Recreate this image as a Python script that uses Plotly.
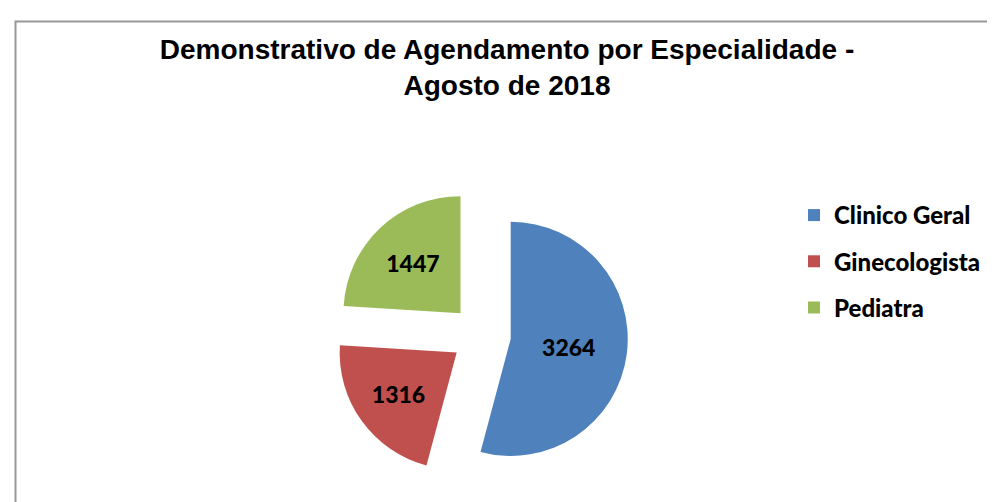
import plotly.graph_objects as go

categories = ["Clinico Geral", "Ginecologista", "Pediatra"]
values = [3264, 1316, 1447]
colors = ["#4F81BD", "#C0504D", "#9BBB59"]
title_lines = ["Demonstrativo de Agendamento por Especialidade -", "Agosto de 2018"]

fig = go.Figure()
fig.add_trace(go.Pie(
    labels=categories, values=values, sort=False, direction="clockwise", rotation=0,
    marker=dict(colors=colors, line=dict(width=0)),
    pull=[0.256, 0.256, 0.256],
    textinfo="value", textposition="inside", insidetextorientation="horizontal",
    textfont=dict(family="Lato", size=23, color="black", weight=900),
    domain=dict(x=[326/995, 620/995], y=[28/502, 322/502]),
    showlegend=False, hoverinfo="label+value",
))
for name, col in zip(categories, colors):
    fig.add_trace(go.Scatter(
        x=[None], y=[None], mode="markers", name=name, legendgroup=name,
        marker=dict(symbol="square", size=12, color=col),
    ))

fig.update_layout(
    width=995, height=502,
    margin=dict(l=0, r=0, t=0, b=0),
    paper_bgcolor="white", plot_bgcolor="white",
    title=dict(text="<br>".join(title_lines), x=499/995, xanchor="center",
               y=1 - 51/502, yanchor="top", yref="container",
               font=dict(family="Arial", size=28, color="black", weight="bold")),
    xaxis=dict(visible=False), yaxis=dict(visible=False),
    legend=dict(x=786/995, y=1 - 185/502, xanchor="left", yanchor="top",
                font=dict(family="Lato", size=24, color="black", weight=900),
                tracegroupgap=12, itemsizing="trace", bgcolor="rgba(0,0,0,0)"),
    shapes=[dict(type="rect", xref="paper", yref="paper",
                 x0=7.5/995, x1=1.01, y0=-0.02, y1=1 - 13.5/502,
                 line=dict(color="#989898", width=2))],
)
fig.write_html("out.html")
